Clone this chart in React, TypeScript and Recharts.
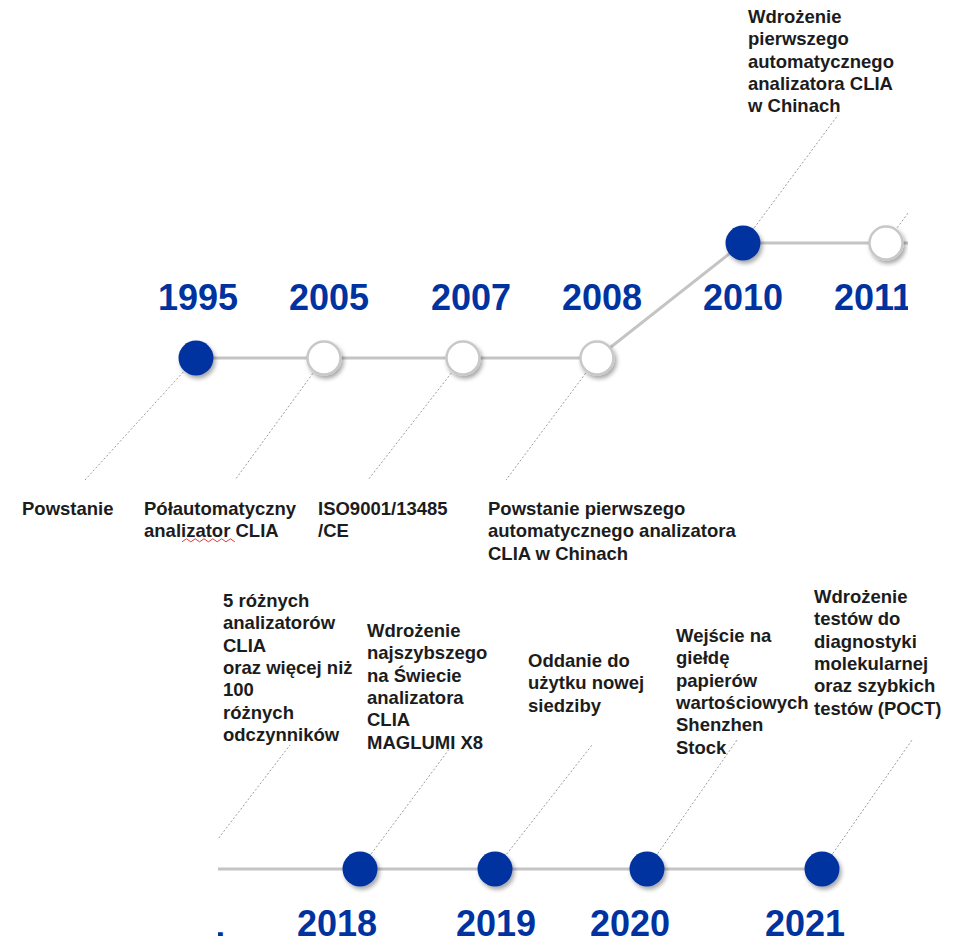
import { ScatterChart, Scatter, XAxis, YAxis, ReferenceLine } from "recharts";

const BLUE = "#0033a0";
const FONT = "'Liberation Sans', Arial, sans-serif";

// upper timeline
const topYears = ["1995", "2005", "2007", "2008", "2010", "2011"];
const topNodeX = [196, 324, 463, 597, 743, 886];
const topNodeY = [358, 358, 358, 358, 243, 243];
const topFilled = [true, false, false, false, true, false];
const topYearX = [198, 329, 471, 602, 743, 873];
const topYearY = 310;
const topTexts = [
  ["Powstanie"],
  ["Półautomatyczny", "analizator CLIA"],
  ["ISO9001/13485", "/CE"],
  ["Powstanie pierwszego", "automatycznego analizatora", "CLIA w Chinach"],
  ["Wdrożenie", "pierwszego", "automatycznego", "analizatora CLIA", "w Chinach"],
  [],
];
const topTextX = [22, 144, 318, 488, 748, 0];
const topTextY = [508, 508, 508, 508, 16, 0];
const topLeaderX = [85, 235, 368, 506, 838, 980];
const topLeaderY = [480, 480, 480, 480, 115, 115];
const topTrackEndX = 955;

// lower timeline (continues from 2011, cut on the left)
const bottomYears = ["2011", "2018", "2019", "2020", "2021"];
const bottomNodeX = [195, 360, 495, 647, 822];
const bottomNodeY = 869;
const bottomFilled = [true, true, true, true, true];
const bottomYearX = [184.8, 337, 496, 630, 805];
const bottomYearY = 936;
const bottomTexts = [
  ["5 różnych", "analizatorów", "CLIA", "oraz więcej niż", "100", "różnych", "odczynników"],
  ["Wdrożenie", "najszybszego", "na Świecie", "analizatora", "CLIA", "MAGLUMI X8"],
  ["Oddanie do", "użytku nowej", "siedziby"],
  ["Wejście na", "giełdę", "papierów", "wartościowych", "Shenzhen", "Stock"],
  ["Wdrożenie", "testów do", "diagnostyki", "molekularnej", "oraz szybkich", "testów (POCT)"],
];
const bottomTextX = [223, 367, 528, 676, 814];
const bottomTextY = [600, 630, 660, 635, 596];
const bottomLeaderX = [290, 450, 592, 737, 912];
const bottomLeaderY = [745, 748, 745, 740, 740];

const spellchecked = "analizator CLIA";

function Node(props: any) {
  const { cx, cy, payload } = props;
  const id = `shadow-${payload.key}`;
  return (
    <g>
      <defs>
        <filter id={id} x="-60%" y="-60%" width="220%" height="220%">
          <feDropShadow dx="2" dy="3" stdDeviation="2" floodColor="#000" floodOpacity="0.35" />
        </filter>
      </defs>
      <circle
        cx={cx}
        cy={cy}
        r={payload.filled ? 17.5 : 16.5}
        fill={payload.filled ? BLUE : "#fff"}
        stroke={payload.filled ? "none" : "#c8c8c8"}
        strokeWidth={payload.filled ? 0 : 2.5}
        filter={`url(#${id})`}
      />
    </g>
  );
}

function YearLabel(props: any) {
  const { cx, cy, payload } = props;
  return (
    <text x={cx} y={cy} textAnchor="middle" fontFamily={FONT} fontWeight={700} fontSize={36} fill={BLUE}>
      {payload.year}
    </text>
  );
}

function Caption(props: any) {
  const { cx, cy, payload } = props;
  const lines: string[] = payload.lines;
  return (
    <g>
      <text x={cx} y={cy + 7} fontFamily={FONT} fontWeight={700} fontSize={18.5} fill="#1c1c1c">
        {lines.map((l, i) => (
          <tspan key={i} x={cx} dy={i === 0 ? 0 : 22.3}>
            {l}
          </tspan>
        ))}
      </text>
      {lines.map((l, i) =>
        l === spellchecked ? (
          <path
            key={`s${i}`}
            d={Array.from({ length: 13 }, (_, k) => `${k === 0 ? "M" : "L"}${cx + 38 + k * 4.4},${cy + 22.3 * i + 10 + (k % 2 ? -1.5 : 1.5)}`).join(" ")}
            fill="none"
            stroke="#e03a3a"
            strokeWidth={1}
          />
        ) : null
      )}
    </g>
  );
}

const noShape = () => <g />;

function leaderStart(nx: number, ny: number, tx: number, ty: number) {
  const dx = tx - nx;
  const dy = ty - ny;
  const d = Math.hypot(dx, dy);
  return { x: nx + (dx / d) * 19, y: ny + (dy / d) * 19 };
}

function Timeline({
  width,
  height,
  yDomain,
  years,
  nodeX,
  nodeY,
  filled,
  yearX,
  yearY,
  texts,
  textX,
  textY,
  leaderX,
  leaderY,
  track,
  tag,
}: any) {
  const nodes = years.map((y: string, i: number) => ({
    key: `${tag}${i}`,
    year: y,
    x: nodeX[i],
    y: nodeY[i],
    filled: filled[i],
  }));
  const yearLabels = years.map((y: string, i: number) => ({ year: y, x: yearX[i], y: yearY }));
  const captions = texts
    .map((lines: string[], i: number) => ({ lines, x: textX[i], y: textY[i] }))
    .filter((c: any) => c.lines.length > 0);
  return (
    <ScatterChart width={width} height={height} margin={{ top: 0, right: 0, bottom: 0, left: 0 }}>
      <XAxis type="number" dataKey="x" domain={[0, width]} hide allowDataOverflow />
      <YAxis type="number" dataKey="y" domain={yDomain} reversed hide allowDataOverflow />
      {nodes.map((n: any, i: number) => (
        <ReferenceLine
          key={n.key}
          segment={[leaderStart(n.x, n.y, leaderX[i], leaderY[i]), { x: leaderX[i], y: leaderY[i] }]}
          stroke="#9c9c9c"
          strokeWidth={1}
          strokeDasharray="2 2"
          ifOverflow="visible"
        />
      ))}
      <Scatter
        data={track}
        line={{ stroke: "#c4c4c4", strokeWidth: 3 }}
        shape={noShape}
        isAnimationActive={false}
      />
      <Scatter data={nodes} shape={Node} isAnimationActive={false} />
      <Scatter data={yearLabels} shape={YearLabel} isAnimationActive={false} />
      <Scatter data={captions} shape={Caption} isAnimationActive={false} />
    </ScatterChart>
  );
}

export default function App() {
  const topTrack = [
    ...topNodeX.map((x, i) => ({ x, y: topNodeY[i] })),
    { x: topTrackEndX, y: topNodeY[topNodeY.length - 1] },
  ];
  const bottomTrack = bottomNodeX.map((x) => ({ x, y: bottomNodeY }));
  return (
    <div style={{ position: "absolute", left: 0, top: 0, width: 955, height: 942, background: "#fff" }}>
      <div style={{ position: "absolute", left: 0, top: 0, width: 908, height: 575, overflow: "hidden" }}>
        <Timeline
          tag="t"
          width={955}
          height={575}
          yDomain={[0, 575]}
          years={topYears}
          nodeX={topNodeX}
          nodeY={topNodeY}
          filled={topFilled}
          yearX={topYearX}
          yearY={topYearY}
          texts={topTexts}
          textX={topTextX}
          textY={topTextY}
          leaderX={topLeaderX}
          leaderY={topLeaderY}
          track={topTrack}
        />
      </div>
      <div style={{ position: "absolute", left: 218, top: 575, width: 737, height: 367, overflow: "hidden" }}>
        <div style={{ position: "absolute", left: -218, top: 0 }}>
          <Timeline
            tag="b"
            width={955}
            height={367}
            yDomain={[575, 942]}
            years={bottomYears}
            nodeX={bottomNodeX}
            nodeY={bottomNodeX.map(() => bottomNodeY)}
            filled={bottomFilled}
            yearX={bottomYearX}
            yearY={bottomYearY}
            texts={bottomTexts}
            textX={bottomTextX}
            textY={bottomTextY}
            leaderX={bottomLeaderX}
            leaderY={bottomLeaderY}
            track={bottomTrack}
          />
        </div>
      </div>
    </div>
  );
}
